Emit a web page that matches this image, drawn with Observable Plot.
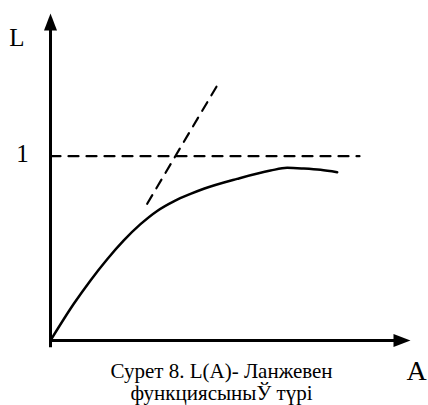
<!DOCTYPE html>
<html>
<head>
<meta charset="utf-8">
<script src="https://cdn.jsdelivr.net/npm/d3@7"></script>
<script src="https://cdn.jsdelivr.net/npm/@observablehq/plot@0.6"></script>
<style>
  html, body { margin: 0; padding: 0; background: #fff; }
</style>
</head>
<body>
<div id="chart"></div>
<script>
// Langevin function L(A): rises from the origin and levels off near L = 1
const curveA = [0, 0.233, 0.40, 0.567, 0.733, 0.90, 1.067, 1.233, 1.40, 1.533, 1.867, 2.20, 2.367, 2.533, 2.70, 2.867];
const curveL = [0, 0.199, 0.326, 0.441, 0.543, 0.631, 0.703, 0.755, 0.795, 0.823, 0.877, 0.922, 0.937, 0.933, 0.926, 0.913];

// initial-slope tangent (dashed)
const tangentA = [0.967, 1.673];
const tangentL = [0.742, 1.389];

// saturation level L = 1 (dashed)
const levelA = [0, 3.09];
const levelL = [1, 1];

// axis extents and labels
const xMax = 3.6;
const yMax = 1.774;
const yTicks = [1];
const xLabel = "A";
const yLabel = "L";
const captionLines = ["Сурет 8. L(A)- Ланжевен", "функциясыныЎ түрі"];

const curve = curveA.map((a, i) => ({A: a, L: curveL[i]}));
const tangent = tangentA.map((a, i) => ({A: a, L: tangentL[i]}));
const level = levelA.map((a, i) => ({A: a, L: levelL[i]}));

// filled arrowhead with its tip at the anchor point, pointing up
const arrowHead = {
  draw(ctx) {
    ctx.moveTo(0, 0);
    ctx.lineTo(-6.5, 17);
    ctx.lineTo(6.5, 17);
    ctx.closePath();
  }
};

const serif = "'Liberation Serif', 'Times New Roman', serif";

const chart = Plot.plot({
  width: 428,
  height: 405,
  marginLeft: 50,
  marginRight: 18,
  marginTop: 13,
  marginBottom: 65,
  x: {domain: [0, xMax], axis: null},
  y: {domain: [0, yMax], axis: null},
  style: {background: "#fff", fontFamily: serif, color: "#000", overflow: "visible"},
  marks: [
    // axes
    Plot.ruleX([0], {y1: -0.04, y2: yMax - 0.06, stroke: "#000", strokeWidth: 3}),
    Plot.ruleY([0], {x1: 0, x2: xMax - 0.1, stroke: "#000", strokeWidth: 3}),
    Plot.dot([{A: 0, L: yMax}], {x: "A", y: "L", symbol: arrowHead, fill: "#000", stroke: null}),
    Plot.dot([{A: xMax, L: 0}], {x: "A", y: "L", symbol: arrowHead, rotate: 90, fill: "#000", stroke: null}),
    // dashed guides
    Plot.line(level, {x: "A", y: "L", stroke: "#000", strokeWidth: 2.2, strokeDasharray: "10,8"}),
    Plot.line(tangent, {x: "A", y: "L", stroke: "#000", strokeWidth: 2.2, strokeDasharray: "10,8"}),
    // L(A)
    Plot.line(curve, {x: "A", y: "L", curve: "monotone-x", stroke: "#000", strokeWidth: 2.5}),
    // tick label and axis names
    Plot.text(yTicks, {x: 0, y: d => d, text: d => String(d), dx: -28, dy: -2.5, fontSize: 25, fill: "#000"}),
    Plot.text([yLabel], {x: 0, y: yMax, text: d => d, dx: -33.5, dy: 24, fontSize: 25, fill: "#000"}),
    Plot.text([xLabel], {x: xMax, y: 0, text: d => d, dx: 6, dy: 31, fontSize: 28, fill: "#000"}),
    // caption
    Plot.text([captionLines.join("\n")], {
      frameAnchor: "bottom", lineAnchor: "top", textAnchor: "middle",
      dx: -9, dy: 22, fontSize: 21, lineHeight: 1.05, fill: "#000"
    })
  ]
});

document.getElementById("chart").appendChild(chart);
</script>
</body>
</html>
